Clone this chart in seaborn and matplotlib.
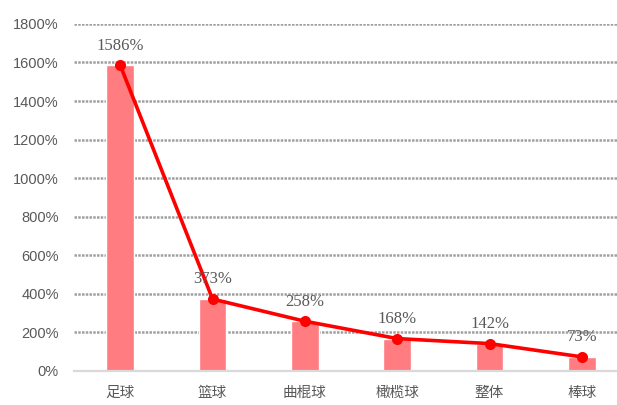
import matplotlib
matplotlib.use("Agg")
import matplotlib.pyplot as plt
import seaborn as sns
import pandas as pd

# Growth rate by sport (percent)
sports = ["足球", "篮球", "曲棍球", "橄榄球", "整体", "棒球"]
growth = [1586, 373, 258, 168, 142, 73]
y_ticks = [0, 200, 400, 600, 800, 1000, 1200, 1400, 1600, 1800]

df = pd.DataFrame({"sport": sports, "growth": growth})

sns.set_theme(style="white")
plt.rcParams["font.family"] = ["Noto Sans CJK SC", "DejaVu Sans"]

fig = plt.figure(figsize=(6.17, 4.05), dpi=100)
ax = fig.add_axes([0.12, 0.084, 0.88, 0.857])

sns.barplot(data=df, x="sport", y="growth", color="#FF7C80", saturation=1,
            width=0.3, ax=ax, zorder=2)
sns.pointplot(data=df, x="sport", y="growth", color="#FF0000", markers="o",
              markersize=6, linewidth=2.6, ax=ax, zorder=3)

for i, v in enumerate(growth):
    ax.text(i, v + 60, f"{v}%", ha="center", va="bottom", fontsize=12,
            color="#595959", family="Liberation Serif", zorder=4)

ax.set_ylim(0, 1800)
ax.set_xlim(-0.5, 5.38)
ax.set_yticks(y_ticks)
ax.set_yticklabels([f"{t}%" for t in y_ticks], family="Liberation Sans",
                   fontsize=10.5, color="#595959")
ax.tick_params(axis="x", labelsize=10.5, labelcolor="#595959", length=0, pad=11)
ax.tick_params(axis="y", length=0, pad=11)
ax.set_xlabel("")
ax.set_ylabel("")

for t in y_ticks[1:]:
    ax.axhline(t, color="#A0A0A0", linewidth=1.8, linestyle=(0, (1, 0.5)), zorder=1)

for side in ["top", "right", "left"]:
    ax.spines[side].set_visible(False)
ax.spines["bottom"].set_color("#D9D9D9")
ax.spines["bottom"].set_linewidth(1.6)

fig.savefig("out.png", dpi=100)
